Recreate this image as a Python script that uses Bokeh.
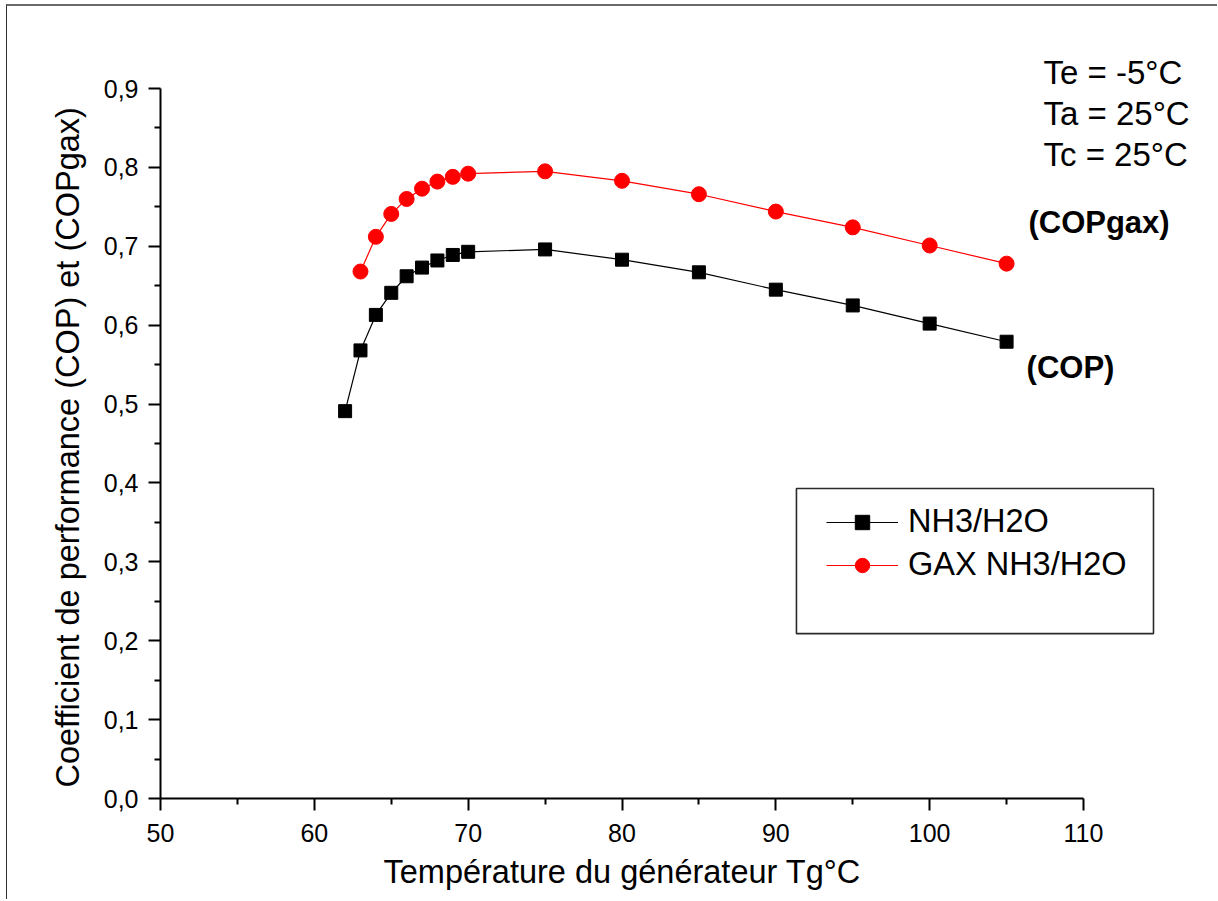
from bokeh.plotting import figure
from bokeh.models import (Range1d, FixedTicker, CustomJSTickFormatter, Legend,
                          LegendItem, Label, BoxAnnotation, Title)
from bokeh.embed import file_html
from bokeh.resources import INLINE

# ---- data ----
tg = [62, 63, 64, 65, 66, 67, 68, 69, 70, 75, 80, 85, 90, 95, 100, 105]
cop = [0.491, 0.568, 0.613, 0.641, 0.662, 0.673, 0.682, 0.689, 0.693,
       0.696, 0.683, 0.667, 0.645, 0.625, 0.602, 0.579]

tg_gax = [63, 64, 65, 66, 67, 68, 69, 70, 75, 80, 85, 90, 95, 100, 105]
cop_gax = [0.668, 0.712, 0.741, 0.760, 0.773, 0.782, 0.788, 0.792,
           0.795, 0.783, 0.766, 0.744, 0.724, 0.701, 0.678]

series_names = ["NH3/H2O", "GAX NH3/H2O"]
x_ticks = [50, 60, 70, 80, 90, 100, 110]
x_minor = [55, 65, 75, 85, 95, 105]
y_ticks = [0.0, 0.1, 0.2, 0.3, 0.4, 0.5, 0.6, 0.7, 0.8, 0.9]
y_minor = [0.05, 0.15, 0.25, 0.35, 0.45, 0.55, 0.65, 0.75, 0.85]
conditions = ["Te = -5°C", "Ta = 25°C", "Tc = 25°C"]
x_label = "Température du générateur Tg°C"
y_label = "Coefficient de performance (COP) et (COPgax)"

FONT = "Liberation Sans"

# ---- layout geometry (pixels) ----
W, H = 1211, 895
LEFT, RIGHT, TOP, BOTTOM = 153, 18, 10, 103
frame_w = W - LEFT - RIGHT
frame_h = H - TOP - BOTTOM
px_per_x = 923.0 / 60.0      # 50..110 spans 923 px
px_per_y = 710.0 / 0.9       # 0..0.9 spans 710 px
x_end = x_ticks[0] + frame_w / px_per_x
y_end = frame_h / px_per_y

p = figure(width=W, height=H, output_backend="svg", toolbar_location=None,
           x_range=Range1d(x_ticks[0], x_end), y_range=Range1d(0, y_end),
           min_border_left=LEFT, min_border_right=RIGHT,
           min_border_top=TOP, min_border_bottom=BOTTOM)
p.background_fill_color = "white"
p.border_fill_color = "white"
p.outline_line_color = None
p.grid.visible = False
# outer page frame (left and top edges visible in the reference)
p.styles = {"margin-left": "6px", "margin-top": "4px",
            "border-left": "1px solid #333333", "border-top": "2px solid #6b6b6b"}

# axes
for ax in (p.xaxis[0], p.yaxis[0]):
    ax.axis_line_width = 2
    ax.axis_line_color = "black"
    ax.major_tick_line_width = 2
    ax.minor_tick_line_width = 2
    ax.major_tick_out = 12
    ax.major_tick_in = 0
    ax.minor_tick_out = 6
    ax.minor_tick_in = 0
    ax.major_label_text_font = FONT
    ax.major_label_text_font_size = "25px"
    ax.major_label_text_color = "black"

p.xaxis[0].ticker = FixedTicker(ticks=x_ticks, minor_ticks=x_minor)
p.xaxis[0].bounds = (x_ticks[0], x_ticks[-1])
p.xaxis[0].formatter = CustomJSTickFormatter(code="return tick.toFixed(0);")
p.xaxis[0].major_label_standoff = 13

p.yaxis[0].ticker = FixedTicker(ticks=y_ticks, minor_ticks=y_minor)
p.yaxis[0].bounds = (y_ticks[0], y_ticks[-1])
p.yaxis[0].formatter = CustomJSTickFormatter(code="return tick.toFixed(1).replace('.', ',');")
p.yaxis[0].major_label_standoff = 10

# axis titles, aligned on the axis extent (not the wider frame)
p.add_layout(Title(text=x_label, align="left", offset=223, standoff=14,
                   text_font=FONT, text_font_size="32.5px",
                   text_font_style="normal", text_color="black"), "below")
p.add_layout(Title(text=y_label, align="left", offset=11, standoff=30,
                   text_font=FONT, text_font_size="32.5px",
                   text_font_style="normal", text_color="black"), "left")

# series
l1 = p.line(tg, cop, line_color="black", line_width=1.2)
s1 = p.scatter(tg, cop, marker="square", size=13, fill_color="black", line_color="black")
l2 = p.line(tg_gax, cop_gax, line_color="#ff0000", line_width=1.2)
s2 = p.scatter(tg_gax, cop_gax, marker="circle", size=15, fill_color="#ff0000", line_color="#ff0000")

# legend frame
box = BoxAnnotation(left=91.34, right=114.55, top=0.393, bottom=0.209,
                    fill_alpha=0, line_color="#2a2a2a", line_alpha=1.0,
                    line_width=1.6)
p.add_layout(box)

legend = Legend(items=[LegendItem(label=series_names[0], renderers=[l1, s1]),
                       LegendItem(label=series_names[1], renderers=[l2, s2])],
                location=(656, 205), orientation="vertical",
                padding=10, margin=0, spacing=6,
                glyph_width=72, glyph_height=36, label_height=36,
                label_standoff=10,
                label_text_font=FONT, label_text_font_size="32.5px",
                label_text_color="black",
                border_line_alpha=0, background_fill_alpha=0)
p.add_layout(legend)

# condition text
for txt, yb in zip(conditions, [0.9203, 0.8683, 0.8163]):
    p.add_layout(Label(x=107.40, y=yb, text=txt, text_font=FONT,
                       text_font_size="33px", text_color="black",
                       text_baseline="alphabetic"))

p.add_layout(Label(x=106.42, y=0.7301, text="(COPgax)", text_font=FONT,
                   text_font_size="31px", text_font_style="bold",
                   text_color="black", text_baseline="alphabetic"))
p.add_layout(Label(x=106.30, y=0.5463, text="(COP)", text_font=FONT,
                   text_font_size="31px", text_font_style="bold",
                   text_color="black", text_baseline="alphabetic"))

open("out.html", "w").write(file_html(p, INLINE))
